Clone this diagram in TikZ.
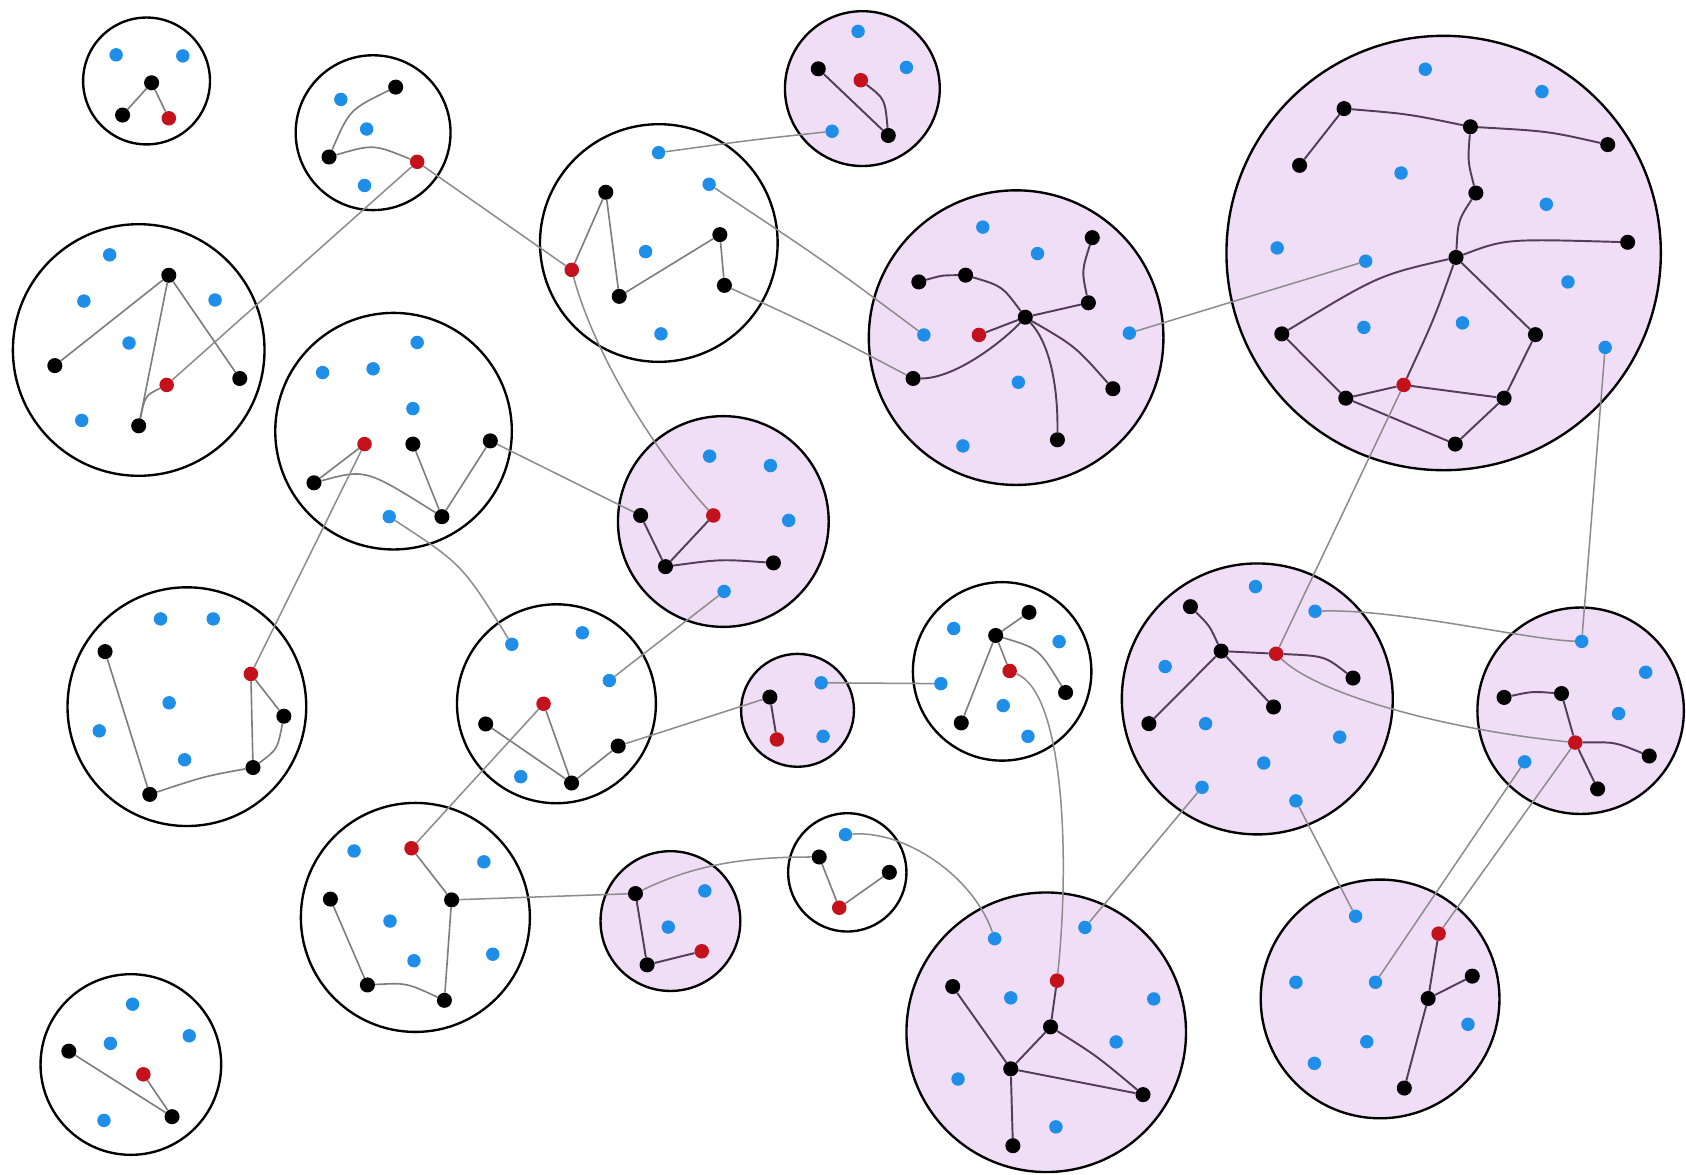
\documentclass[tikz,border=0pt]{standalone}
\definecolor{pinkfill}{RGB}{240,222,246}
\definecolor{dotblue}{RGB}{30,142,232}
\definecolor{dotred}{RGB}{196,18,28}
\definecolor{edgepink}{RGB}{82,62,92}
\definecolor{edgewhite}{RGB}{125,125,125}
\definecolor{connc}{RGB}{140,140,140}
\pgfdeclarelayer{circles}
\pgfdeclarelayer{edges}
\pgfsetlayers{circles,edges,main}
\newcommand\dK[3]{\node[kd] (#1) at (#2,#3) {};}
\newcommand\dB[3]{\node[bd] (#1) at (#2,#3) {};}
\newcommand\dR[3]{\node[rd] (#1) at (#2,#3) {};}
\newcommand\cW[4]{\node[wcirc,minimum size=#4pt] (#1) at (#2,#3) {};}
\newcommand\cP[4]{\node[pcirc,minimum size=#4pt] (#1) at (#2,#3) {};}
\begin{document}
\begin{tikzpicture}[x=1pt,y=-1pt,
 wcirc/.style={circle,draw=black,line width=2.2pt,fill=white,inner sep=0pt},
 pcirc/.style={circle,draw=black,line width=2.2pt,fill=pinkfill,inner sep=0pt},
 kd/.style={circle,fill=black,inner sep=0pt,minimum size=14pt},
 bd/.style={circle,fill=dotblue,inner sep=0pt,minimum size=12.5pt},
 rd/.style={circle,fill=dotred,inner sep=0pt,minimum size=13.5pt},
 ew/.style={draw=edgewhite,line width=1.5pt},
 ep/.style={draw=edgepink,line width=1.8pt},
 conn/.style={draw=connc,line width=1.4pt}]
\useasboundingbox (0,0) rectangle (1568,1092);

\begin{pgfonlayer}{circles}
\fill[white] (0,0) rectangle (1568,1092);
\cW{C1}{136.3}{75.3}{118}
\cW{C2}{347}{123.4}{144}
\cW{C3}{612.7}{226}{221}
\cP{C21}{802}{82.4}{144}
\cW{C4}{129}{325.5}{234}
\cW{C5}{366}{401}{220}
\cP{C6}{945}{314}{274}
\cP{C7}{1342.6}{235.3}{404}
\cP{C8}{672.7}{485}{196}
\cW{C9}{517.5}{654.5}{185}
\cW{C12}{173.8}{657.2}{222}
\cW{C13}{386.3}{853.2}{213}
\cP{C14}{623.5}{856.6}{130}
\cW{C15}{121.7}{990}{168}
\cP{C16}{741.7}{660.6}{105}
\cW{C17}{932}{624.4}{166}
\cP{C18}{973}{960}{260}
\cW{C19}{788}{811.3}{110}
\cP{C10}{1169.3}{650}{252}
\cP{C11}{1470}{661}{192}
\cP{C20}{1283.5}{929}{222}
\end{pgfonlayer}

% C1
\dB{c1b1}{108}{51}\dB{c1b2}{170}{52}\dK{c1k1}{141}{77}\dK{c1k2}{114}{107}\dR{c1r}{157}{110}
% C2
\dK{c2k1}{368}{81}\dB{c2b1}{317}{92.5}\dB{c2b2}{341}{120}\dK{c2k2}{306}{146}\dR{c2r}{388}{150.5}\dB{c2b3}{339}{172.5}
% C3
\dB{c3b1}{612.5}{142}\dB{c3b2}{659.5}{171.4}\dK{c3k1}{563.4}{178.8}\dK{c3k2}{669.5}{218.2}
\dB{c3b3}{600.4}{234}\dR{c3r}{531.7}{251}\dK{c3k3}{575.9}{275.6}\dK{c3k4}{673.7}{265.4}\dB{c3b4}{614.7}{310.5}
% C21 (top pink)
\dB{tb1}{798}{29.2}\dK{tk1}{761}{64}\dR{tr}{800.5}{74.6}\dB{tb2}{843}{62.7}\dB{tb3}{773.8}{122.1}\dK{tk2}{826.1}{126}
% C4
\dB{c4b1}{102}{237}\dK{c4k1}{157}{256}\dB{c4b2}{78}{280}\dB{c4b3}{200}{279}\dB{c4b4}{120}{319}
\dK{c4k2}{51}{340}\dK{c4k3}{223}{352}\dR{c4r}{155}{358}\dB{c4b5}{76}{391}\dK{c4k4}{129}{396}
% C5
\dB{c5b1}{388}{318.5}\dB{c5b2}{300}{346.5}\dB{c5b3}{347}{343}\dB{c5b4}{384}{380}\dR{c5r}{339}{413}
\dK{c5k1}{384}{413}\dK{c5k2}{456}{410}\dK{c5k3}{292}{449}\dK{c5k4}{411}{480.5}\dB{c5b5}{362}{480.5}
% C6
\dB{c6b1}{914}{211.2}\dB{c6b2}{964.9}{235.8}\dK{c6k1}{1015.8}{221}\dK{c6k2}{854.5}{262.2}\dK{c6k3}{898}{255.9}
\dK{c6k4}{1012.2}{281.6}\dK{c6k5}{953.5}{295}\dB{c6b3}{859.2}{311.5}\dR{c6r}{910.4}{311.5}\dB{c6b4}{1050.3}{309.8}
\dK{c6k6}{849.2}{352}\dB{c6b5}{947.1}{355.5}\dK{c6k7}{1035}{361.5}\dB{c6b6}{895.5}{414.7}\dK{c6k8}{983.4}{409}
% C7
\dB{c7b1}{1325.5}{64.4}\dB{c7b2}{1434}{85.2}\dK{c7k1}{1250}{101}\dK{c7k2}{1367.5}{117.9}\dK{c7k3}{1495.2}{134.5}
\dK{c7k4}{1208.6}{153.8}\dB{c7b3}{1303}{160.9}\dK{c7k5}{1372.6}{179.5}\dB{c7b4}{1438.1}{190}\dB{c7b5}{1187.8}{230.6}
\dK{c7k6}{1513.7}{225.3}\dB{c7b6}{1270.1}{242.9}\dK{c7k7}{1354.1}{239.4}\dB{c7b7}{1458.2}{262.2}\dB{c7b8}{1268.4}{304.5}
\dB{c7b9}{1360.1}{300.3}\dK{c7k8}{1192.1}{310.5}\dK{c7k9}{1428}{311.2}\dB{c7b10}{1492.8}{323.1}\dR{c7r}{1305.4}{358}
\dK{c7k10}{1251.6}{370.3}\dK{c7k11}{1398.8}{370.3}\dK{c7k12}{1353.4}{413}
% C8
\dB{c8b1}{659.9}{424.2}\dB{c8b2}{716.5}{433}\dK{c8k1}{595.8}{479.4}\dR{c8r}{663.4}{479.4}\dB{c8b3}{733.5}{484}
\dK{c8k2}{618.9}{527}\dK{c8k3}{719.3}{523.5}\dB{c8b4}{673.4}{550}
% C9
\dB{c9b1}{476}{599.2}\dB{c9b2}{541.6}{588.5}\dB{c9b3}{566.7}{632.9}\dR{c9r}{505.5}{654.5}
\dK{c9k1}{451.7}{673.3}\dK{c9k2}{574.9}{693.8}\dK{c9k3}{531.6}{728.2}\dB{c9b4}{484.3}{722.3}
% C12
\dB{c12b1}{149.3}{575.6}\dB{c12b2}{198.3}{575.6}\dK{c12k1}{97.7}{606}\dR{c12r}{233.3}{626.8}\dB{c12b3}{157.3}{653.6}
\dK{c12k2}{264}{666.1}\dB{c12b4}{92.3}{679.7}\dB{c12b5}{171.7}{706.6}\dK{c12k3}{235.3}{713.8}\dK{c12k4}{139.3}{738.8}
% C13
\dB{c13b1}{329.3}{791.4}\dR{c13r}{382.7}{788.9}\dB{c13b2}{450}{801.5}\dK{c13k1}{307.3}{836.2}\dK{c13k2}{420}{836.9}
\dB{c13b3}{362.7}{856.6}\dB{c13b4}{385}{893.5}\dB{c13b5}{458.3}{887.4}\dK{c13k3}{341.7}{916}\dK{c13k4}{413.3}{930.3}
% C14
\dK{c14k1}{591}{831}\dB{c14b1}{655.5}{828.5}\dB{c14b2}{621.5}{862.2}\dR{c14r}{652.6}{884.7}\dK{c14k2}{601.8}{897.3}
% C15
\dB{c15b1}{123.3}{933.9}\dB{c15b2}{102.7}{970.4}\dB{c15b3}{176}{963.3}\dK{c15k1}{64}{977.6}\dR{c15r}{133.3}{999.1}
\dB{c15b4}{96.7}{1042}\dK{c15k2}{160}{1038.5}
% C16
\dK{c16k}{716}{648.3}\dR{c16r}{722.5}{687.7}\dB{c16b1}{763.7}{635}\dB{c16b2}{765.5}{684.8}
% C17
\dK{c17k1}{957}{569.5}\dB{c17b1}{887}{584.5}\dK{c17k2}{926}{591}\dB{c17b2}{985}{596.7}\dR{c17r}{939}{624}
\dB{c17b3}{875}{635.8}\dK{c17k3}{991}{644}\dB{c17b4}{933}{656.2}\dK{c17k4}{894}{672.3}\dB{c17b5}{956}{684.8}
% C18
\dB{c18b1}{925}{873}\dB{c18b2}{1009}{862.5}\dR{c18r}{983}{912}\dK{c18k1}{886}{917.5}\dB{c18b3}{940}{928}
\dK{c18k2}{977}{955}\dB{c18b4}{1038}{969}\dK{c18k3}{940}{994}\dB{c18b5}{891}{1003.5}\dB{c18b6}{982}{1048}
\dK{c18k4}{942}{1065.5}\dK{c18k5}{1063}{1018}\dB{c18b7}{1073}{929}
% C19
\dB{c19b}{786.3}{776.2}\dK{c19k1}{761.9}{797}\dK{c19k2}{827.1}{811.3}\dR{c19r}{780.5}{844.2}
% C10
\dB{c10b1}{1167.6}{545.5}\dK{c10k1}{1107.1}{564.2}\dB{c10b2}{1223}{568.5}\dK{c10k2}{1135.7}{605.5}\dR{c10r}{1186.8}{608}
\dB{c10b3}{1083.6}{619.9}\dK{c10k3}{1258.3}{630.6}\dK{c10k4}{1184.4}{657.5}\dK{c10k5}{1068.5}{673}\dB{c10b4}{1121.2}{673}
\dB{c10b5}{1245.9}{685.5}\dB{c10b6}{1175.3}{709.6}\dB{c10b7}{1117.9}{732.2}\dB{c10b8}{1205.2}{744.8}
% C11
\dB{c11b1}{1471}{596.5}\dB{c11b2}{1530.5}{625.2}\dK{c11k1}{1398.8}{648.6}\dK{c11k2}{1452.2}{645}\dB{c11b3}{1505.3}{663.6}
\dR{c11r}{1465}{690.6}\dK{c11k3}{1533.8}{703.1}\dB{c11b4}{1417.9}{708.5}\dK{c11k4}{1485.8}{733.7}
% C20
\dB{c20b1}{1260.7}{852.1}\dR{c20r}{1337.9}{868.3}\dK{c20k1}{1369.2}{907.8}\dB{c20b2}{1205.2}{913.5}\dB{c20b3}{1279.2}{913.5}
\dK{c20k2}{1328.2}{928.6}\dB{c20b4}{1365.2}{952.6}\dB{c20b5}{1271.1}{968.8}\dB{c20b6}{1222.4}{988.9}\dK{c20k3}{1306}{1011.9}

\begin{pgfonlayer}{edges}
% inner edges, white circles
\draw[ew] (c1k1) -- (c1k2);
\draw[ew] (c1k1) -- (c1r);
\draw[ew] (c2k2) .. controls (325,102) .. (c2k1);
\draw[ew] (c2k2) .. controls (347,134) .. (c2r);
\draw[ew] (c3r) -- (c3k1);
\draw[ew] (c3k1) -- (c3k3);
\draw[ew] (c3k3) -- (c3k2);
\draw[ew] (c3k2) -- (c3k4);
\draw[ew] (c4k1) -- (c4k2);
\draw[ew] (c4k1) -- (c4k4);
\draw[ew] (c4k1) -- (c4k3);
\draw[ew] (c4k4) .. controls (135,368) .. (c4r);
\draw[ew] (c5r) -- (c5k3);
\draw[ew] (c5k3) .. controls (340,436) .. (c5k4);
\draw[ew] (c5k1) -- (c5k4);
\draw[ew] (c5k4) -- (c5k2);
\draw[ew] (c9r) -- (c9k3);
\draw[ew] (c9k1) -- (c9k3);
\draw[ew] (c9k3) -- (c9k2);
\draw[ew] (c12k1) -- (c12k4);
\draw[ew] (c12k4) .. controls (190,722) .. (c12k3);
\draw[ew] (c12k3) .. controls (258,697) .. (c12k2);
\draw[ew] (c12k2) -- (c12r);
\draw[ew] (c12r) -- (c12k3);
\draw[ew] (c13r) -- (c13k2);
\draw[ew] (c13k2) -- (c13k4);
\draw[ew] (c13k1) -- (c13k3);
\draw[ew] (c13k3) .. controls (378,914) .. (c13k4);
\draw[ew] (c15k1) -- (c15k2);
\draw[ew] (c15r) -- (c15k2);
\draw[ew] (c17k2) -- (c17k1);
\draw[ew] (c17k2) -- (c17k4);
\draw[ew] (c17k2) -- (c17r);
\draw[ew] (c17k2) .. controls (966,603) .. (c17k3);
\draw[ew] (c19k1) -- (c19r);
\draw[ew] (c19r) -- (c19k2);
% inner edges, pink circles
\draw[ep] (tk1) -- (tk2);
\draw[ep] (tr) .. controls (823,92) .. (tk2);
\draw[ep] (c6k2) .. controls (876,256) .. (c6k3);
\draw[ep] (c6k3) .. controls (932,266) .. (c6k5);
\draw[ep] (c6k1) .. controls (1006,252) .. (c6k4);
\draw[ep] (c6k4) -- (c6k5);
\draw[ep] (c6r) -- (c6k5);
\draw[ep] (c6k5) .. controls (935,315) and (890,352) .. (c6k6);
\draw[ep] (c6k5) .. controls (1000,322) .. (c6k7);
\draw[ep] (c6k5) .. controls (975,318) and (984,355) .. (c6k8);
\draw[ep] (c7k1) -- (c7k4);
\draw[ep] (c7k1) .. controls (1310,106) .. (c7k2);
\draw[ep] (c7k2) .. controls (1440,122) .. (c7k3);
\draw[ep] (c7k2) .. controls (1365,150) .. (c7k5);
\draw[ep] (c7k5) .. controls (1356,205) .. (c7k7);
\draw[ep] (c7k7) .. controls (1400,222) .. (c7k6);
\draw[ep] (c7k7) .. controls (1282,256) .. (c7k8);
\draw[ep] (c7k7) .. controls (1334,296) .. (c7r);
\draw[ep] (c7k7) -- (c7k9);
\draw[ep] (c7k8) -- (c7k10);
\draw[ep] (c7k10) -- (c7r);
\draw[ep] (c7r) -- (c7k11);
\draw[ep] (c7k9) -- (c7k11);
\draw[ep] (c7k11) -- (c7k12);
\draw[ep] (c7k10) -- (c7k12);
\draw[ep] (c8k1) -- (c8k2);
\draw[ep] (c8r) -- (c8k2);
\draw[ep] (c8k2) .. controls (670,520) .. (c8k3);
\draw[ep] (c14k1) -- (c14k2);
\draw[ep] (c14k2) -- (c14r);
\draw[ep] (c16k) -- (c16r);
\draw[ep] (c18r) -- (c18k2);
\draw[ep] (c18k2) -- (c18k3);
\draw[ep] (c18k1) -- (c18k3);
\draw[ep] (c18k3) -- (c18k4);
\draw[ep] (c18k3) -- (c18k5);
\draw[ep] (c18k2) .. controls (1020,982) .. (c18k5);
\draw[ep] (c10k1) .. controls (1125,582) .. (c10k2);
\draw[ep] (c10k2) -- (c10r);
\draw[ep] (c10k2) -- (c10k5);
\draw[ep] (c10k2) -- (c10k4);
\draw[ep] (c10r) .. controls (1232,610) .. (c10k3);
\draw[ep] (c11k1) .. controls (1425,643) .. (c11k2);
\draw[ep] (c11k2) -- (c11r);
\draw[ep] (c11r) .. controls (1502,690) .. (c11k3);
\draw[ep] (c11r) -- (c11k4);
\draw[ep] (c20r) -- (c20k2);
\draw[ep] (c20k2) -- (c20k1);
\draw[ep] (c20k2) -- (c20k3);
% connectors between circles
\draw[conn] (c2r) -- (c3r);
\draw[conn] (c2r) -- (c4r);
\draw[conn] (c3r) .. controls (550,320) and (600,410) .. (c8r);
\draw[conn] (c3k4) .. controls (760,305) .. (c6k6);
\draw[conn] (c3b2) .. controls (770,245) .. (c6b3);
\draw[conn] (c3b1) .. controls (700,130) .. (tb3);
\draw[conn] (c5k2) -- (c8k1);
\draw[conn] (c5r) -- (c12r);
\draw[conn] (c5b5) .. controls (430,525) .. (c9b1);
\draw[conn] (c8b4) -- (c9b3);
\draw[conn] (c9r) -- (c13r);
\draw[conn] (c9k2) -- (c16k);
\draw[conn] (c16b1) -- (c17b3);
\draw[conn] (c13k2) -- (c14k1);
\draw[conn] (c14k1) .. controls (650,802) and (700,797) .. (c19k1);
\draw[conn] (c19b) .. controls (842,772) and (905,815) .. (c18b1);
\draw[conn] (c17r) .. controls (990,645) and (995,800) .. (c18r);
\draw[conn] (c18b2) -- (c10b7);
\draw[conn] (c10b8) -- (c20b1);
\draw[conn] (c10b2) .. controls (1300,566) and (1420,595) .. (c11b1);
\draw[conn] (c10r) .. controls (1225,645) and (1340,678) .. (c11r);
\draw[conn] (c10r) -- (c7r);
\draw[conn] (c7b10) -- (c11b1);
\draw[conn] (c11b4) -- (c20b3);
\draw[conn] (c11r) -- (c20r);
\draw[conn] (c6b4) -- (c7b6);
\end{pgfonlayer}
\end{tikzpicture}
\end{document}
